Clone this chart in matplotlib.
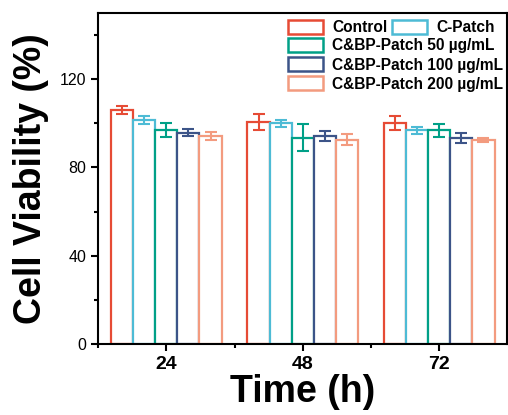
import numpy as np
import matplotlib
matplotlib.use('Agg')
import matplotlib.pyplot as plt
from matplotlib.patches import Patch

plt.rcParams['font.family'] = ['Liberation Sans', 'DejaVu Sans']

times = ['24', '48', '72']
groups = ['Control', 'C-Patch', 'C&BP-Patch 50 µg/mL', 'C&BP-Patch 100 µg/mL', 'C&BP-Patch 200 µg/mL']
colors = ['#E64B35', '#4DBBD5', '#00A087', '#3C5488', '#F39B7F']

# 每组在 24/48/72 h 的均值和误差
control = [106.0, 100.4, 100.2]
control_err = [1.9, 3.6, 3.3]
c_patch = [101.4, 100.0, 96.8]
c_patch_err = [1.7, 1.5, 1.7]
bp50 = [96.8, 93.5, 96.8]
bp50_err = [3.1, 6.2, 2.9]
bp100 = [95.8, 94.1, 93.3]
bp100_err = [1.7, 2.3, 2.4]
bp200 = [94.1, 92.6, 92.4]
bp200_err = [1.9, 2.4, 0.8]

means = [control, c_patch, bp50, bp100, bp200]
errs = [control_err, c_patch_err, bp50_err, bp100_err, bp200_err]

fig = plt.figure(figsize=(5.08, 4.15), dpi=100)
ax = fig.add_axes([0.193, 0.171, 0.806, 0.798])

x = np.arange(1, len(times) + 1)
width = 0.162
for i in range(len(groups)):
    pos = x + (i - 2) * width
    ax.bar(pos, means[i], width, color='white', edgecolor=colors[i], linewidth=1.6, zorder=2)
    ax.errorbar(pos, means[i], yerr=errs[i], fmt='none', ecolor=colors[i],
                elinewidth=1.5, capsize=4, capthick=1.5, zorder=3)

ax.set_xlim(0.5, 3.5)
ax.set_ylim(0, 150)
ax.set_xticks(x)
ax.set_xticklabels(times, fontsize=14, fontweight='bold')
ax.set_xticks([0.5, 1.5, 2.5], minor=True)
ax.set_yticks([0, 40, 80, 120])
ax.set_yticks([20, 60, 100, 140], minor=True)
ax.tick_params(axis='y', labelsize=11.5)
ax.tick_params(which='major', length=5, width=1.5, direction='out')
ax.tick_params(which='minor', length=3, width=1.5, direction='out')
for s in ax.spines.values():
    s.set_linewidth(1.5)

ax.set_xlabel('Time (h)', fontsize=27, fontweight='bold', labelpad=1)
ax.set_ylabel('Cell Viability (%)', fontsize=27, fontweight='bold', labelpad=8)

handles = [Patch(facecolor='white', edgecolor=c, linewidth=1.8) for c in colors]
leg_kw = dict(frameon=False, prop={'weight': 'bold', 'size': 11.2}, handlelength=2.25,
              handleheight=1.0, handletextpad=0.6, borderpad=0, borderaxespad=0)
leg1 = ax.legend(handles[:2], groups[:2], ncol=2, loc='upper left',
                 bbox_to_anchor=(0.463, 0.978), columnspacing=0.3, **leg_kw)
ax.add_artist(leg1)
ax.legend(handles[2:], groups[2:], loc='upper left',
          bbox_to_anchor=(0.463, 0.924), labelspacing=0.25, **leg_kw)

fig.savefig('out.png', dpi=100)
